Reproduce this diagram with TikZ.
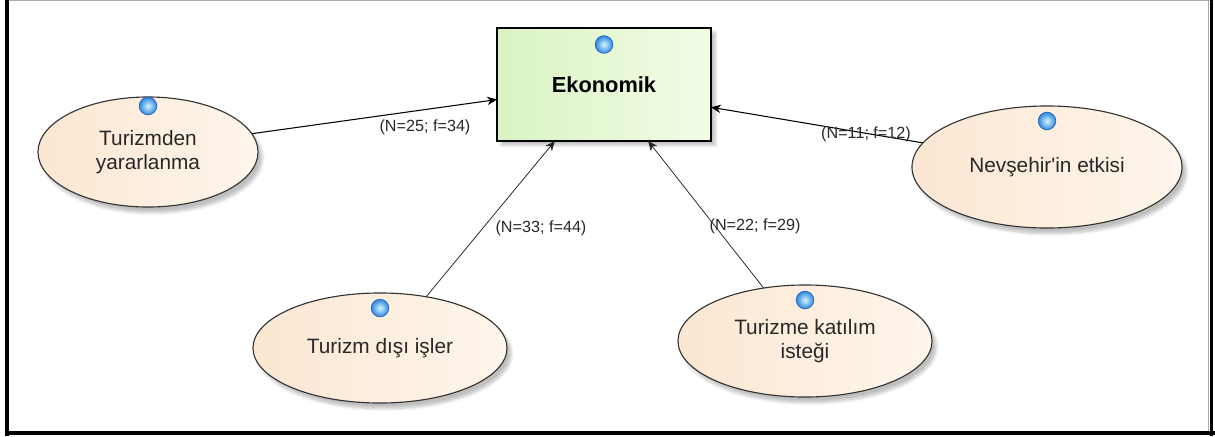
\documentclass[tikz,border=0pt]{standalone}
\usepackage{fontspec}
\setmainfont{Liberation Sans}[Ligatures=TeXOff]
\usetikzlibrary{arrows.meta,shapes.geometric,shadows,shadows.blur,calc}
\definecolor{peachA}{RGB}{251,231,210}
\definecolor{peachB}{RGB}{254,245,236}
\definecolor{greenA}{RGB}{218,243,195}
\definecolor{greenB}{RGB}{242,252,230}
\definecolor{ballin}{RGB}{215,245,255}
\definecolor{ballout}{RGB}{45,135,225}
\definecolor{ballrim}{RGB}{40,100,180}
\definecolor{framegray}{RGB}{170,170,170}
\definecolor{txtgray}{RGB}{40,40,40}
\tikzset{
  rectbox/.style={rectangle, draw=black, line width=1.3pt, inner sep=0pt, outer sep=0pt,
    minimum width=5.35cm, minimum height=2.825cm,
    left color=greenA, right color=greenB,
    blur shadow={shadow xshift=3pt, shadow yshift=-3pt, shadow blur steps=6, shadow opacity=25},
    font=\fontsize{15.5}{18}\selectfont\bfseries},
  ellbox/.style={ellipse, draw=black!80, line width=0.8pt, inner sep=0pt, outer sep=0pt,
    left color=peachA, right color=peachB, align=center, text=txtgray,
    blur shadow={shadow xshift=3pt, shadow yshift=-4pt, shadow blur steps=6, shadow opacity=25},
    font=\fontsize{14.8}{17.5}\selectfont},
  ballnode/.style={circle, minimum size=0.44cm, inner sep=0pt, inner color=ballin, outer color=ballout,
    draw=ballrim, line width=0.5pt},
  conn/.style={draw=black, line width=0.75pt, -{Stealth[length=7pt,width=6pt]}},
  connthin/.style={draw=black!85, line width=0.55pt, -{Stealth[length=7pt,width=6pt]}},
  lab/.style={inner sep=0pt, text=txtgray, font=\fontsize{11.5}{13}\selectfont}
}
\begin{document}
\begin{tikzpicture}[x=0.025cm,y=-0.025cm]
\useasboundingbox (0,0) rectangle (1215,436);
% frame
\draw[framegray, line width=0.8pt] (7,0.6) -- (1212,0.6);
\draw[framegray, line width=0.8pt] (1208.8,0) -- (1208.8,431);
\draw[black, line width=2.4pt] (7,0) -- (7,436);
\draw[black, line width=2.4pt] (1211.5,0) -- (1211.5,436);
\draw[black, line width=2.4pt] (5,433) -- (1215,433);

% main box
\node[rectbox] (eko) at (604,84.5) {Ekonomik};
\node[ballnode] (b0) at ($(eko.center)+(0,-40)$) {};

% ellipses
\node[ellbox, minimum width=5.5cm, minimum height=2.75cm] (e1) at (148,152) {Turizmden\\yararlanma};
\node[ballnode] (b1) at ($(e1.center)+(0,-46)$) {};

\node[ellbox, minimum width=6.35cm, minimum height=2.75cm] (e2) at (380,348) {Turizm dışı işler};
\node[ballnode] (b2) at ($(e2.center)+(0,-40)$) {};

\node[ellbox, minimum width=6.35cm, minimum height=2.8cm] (e3) at (805,341) {Turizme katılım\\isteği};
\node[ballnode] (b3) at ($(e3.center)+(0,-41)$) {};

\node[ellbox, minimum width=6.75cm, minimum height=3.05cm] (e4) at (1047,167) {Nevşehir'in etkisi};
\node[ballnode] (b4) at ($(e4.center)+(0,-46)$) {};

% connectors
\draw[conn] (e1.10) -- (eko.188);
\draw[connthin] (e2.48) -- (eko.229);
\draw[connthin] (e3.128.5) -- (eko.308.5);
\draw[conn] (e4.169.5) -- (eko.348.6);

% labels
\node[lab] (l1) at (425,127) {(N=25; f=34)};
\node[lab] (l2) at (541,228) {(N=33; f=44)};
\node[lab] (l3) at (755,226) {(N=22; f=29)};
\node[lab] (l4) at (866,134) {(N=11; f=12)};
\end{tikzpicture}
\end{document}
